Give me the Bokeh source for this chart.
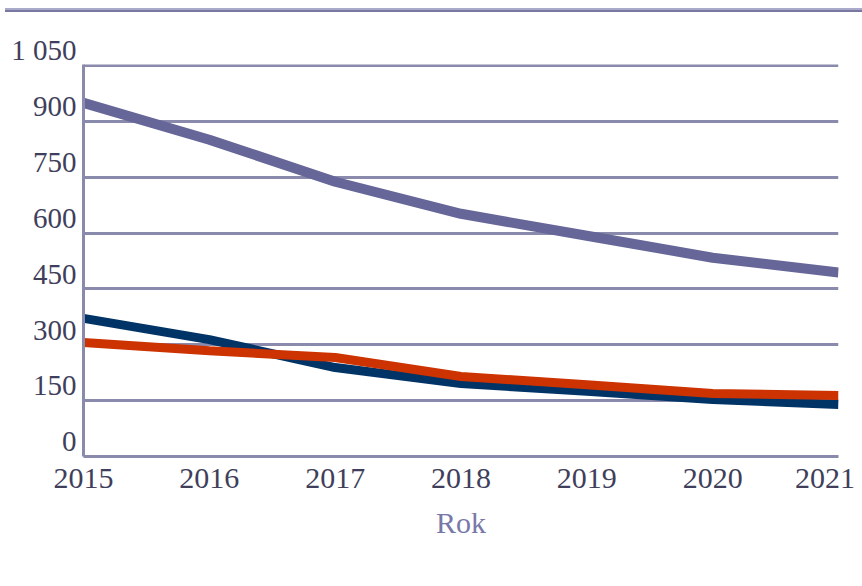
from bokeh.plotting import figure
from bokeh.models import FixedTicker, Range1d, Div, Legend, LegendItem
from bokeh.layouts import column
from bokeh.embed import file_html
from bokeh.resources import INLINE

years = [2015, 2016, 2017, 2018, 2019, 2020, 2021]
gmina = [371, 314, 239, 196, 175, 153, 140]
powiat = [306, 284, 266, 215, 193, 169, 164]
wojewodztwo = [950, 851, 738, 652, 593, 534, 494]
y_ticks = [0, 150, 300, 450, 600, 750, 900, 1050]
y_tick_labels = ["0", "150", "300", "450", "600", "750", "900", "1 050"]
x_tick_labels = ["2015", "2016", "2017", "2018", "2019", "2020", "2021"]
series_names = ["Gmina", "Powiat (średnia)", "Województwo (średnia)"]
series_colors = ["#003366", "#cc3300", "#666699"]

FONT = "'Liberation Serif', serif"
TEXT_COLOR = "#3f3f5c"
GRID_COLOR = "#8a8aac"
W = 862

rule = Div(text="", width=W - 5, height=4, margin=(8, 0, 0, 5),
           styles={"background": "linear-gradient(#a9a9c9 50%, #77779f 50%)"})

p = figure(frame_width=755, frame_height=392, output_backend="svg", toolbar_location=None,
           x_range=Range1d(2015, 2021), y_range=Range1d(0, 1053),
           min_border_left=83, min_border_right=24, min_border_top=52, min_border_bottom=130)
p.outline_line_color = None

renderers = []
for vals, col, w in zip([gmina, powiat, wojewodztwo], series_colors, [9, 9, 10]):
    renderers.append(p.line(years, vals, line_color=col, line_width=w))

p.xaxis.ticker = FixedTicker(ticks=years)
x_over = {y: lab for y, lab in zip(years, x_tick_labels)}
x_over[years[-1]] = x_tick_labels[-1] + "\u00a0"
p.xaxis.major_label_overrides = x_over
p.yaxis.ticker = FixedTicker(ticks=y_ticks)
p.yaxis.major_label_overrides = {t: lab + "\n" for t, lab in zip(y_ticks, y_tick_labels)}
p.xgrid.grid_line_color = None
p.ygrid.grid_line_color = GRID_COLOR
p.ygrid.grid_line_width = 3

for ax in [p.xaxis[0], p.yaxis[0]]:
    ax.axis_line_color = GRID_COLOR
    ax.axis_line_width = 3
    ax.major_tick_line_color = None
    ax.minor_tick_line_color = None
    ax.major_tick_out = 0
    ax.major_tick_in = 0
    ax.major_label_text_font = FONT
    ax.major_label_text_font_size = "30px"
    ax.major_label_text_color = TEXT_COLOR

p.yaxis.major_label_text_font_size = "29px"
p.yaxis.major_label_text_line_height = 0.95
p.yaxis.major_label_standoff = 7
p.xaxis.major_label_standoff = 4
p.xaxis.axis_label = "Rok"
p.xaxis.axis_label_text_font = FONT
p.xaxis.axis_label_text_font_style = "normal"
p.xaxis.axis_label_text_font_size = "30px"
p.xaxis.axis_label_text_color = "#7878a8"
p.xaxis.axis_label_standoff = 9

legend = Legend(items=[LegendItem(label=n, renderers=[r]) for n, r in zip(series_names, renderers)],
                orientation="horizontal", location="bottom_left",
                glyph_width=18, glyph_height=10, label_standoff=0, spacing=0,
                label_width=232, label_height=190,
                padding=0, margin=-64, border_line_color=None, background_fill_alpha=0,
                label_text_font=FONT, label_text_font_size="31px", label_text_color=TEXT_COLOR)
p.add_layout(legend, "below")

layout = column(rule, p, spacing=0)
open("out.html", "w").write(file_html(layout, INLINE))
